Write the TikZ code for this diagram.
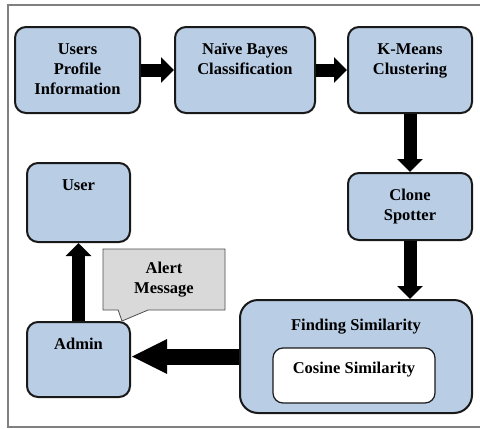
\documentclass[tikz,border=0pt]{standalone}
\usepackage{fontspec}
\setmainfont{Liberation Serif}
\usetikzlibrary{positioning,arrows.meta,shapes.callouts}
\definecolor{boxblue}{HTML}{B9CDE5}
\definecolor{alertgray}{HTML}{D9D9D9}

\begin{document}
\begin{tikzpicture}[x=1pt,y=-1pt,node distance=2cm,on grid,
    stage/.style={draw=black!90,line width=2pt,fill=boxblue,rounded corners=11pt,
      align=center,inner xsep=4pt,inner ysep=5pt,
      font=\bfseries\fontsize{16.5}{20}\selectfont},
    flow/.style={line width=13pt,-{Triangle[length=13pt,width=25pt]}},
    bigflow/.style={line width=16pt,-{Triangle[length=36pt,width=32pt]}}]
    \useasboundingbox (0,0) rectangle (480,429);
    \draw[black!50,line width=1.5pt] (482,5) -- (8,5) -- (8,427) -- (482,427);

    \node[stage,minimum width=125pt,text height=62pt,text depth=14pt] (users) at (77.5,70) {Users\\Profile\\Information};
    \node[stage,minimum width=140pt,text height=42pt,text depth=34pt] (naive) [right=167.5pt of users] {Naïve Bayes\\Classification};
    \node[stage,minimum width=124pt,text height=42pt,text depth=34pt] (kmeans) [right=165pt of naive] {K-Means\\Clustering};
    \node[stage,minimum width=124pt,text height=42pt,text depth=15pt] (clone) [below=136.5pt of kmeans] {Clone\\Spotter};
    \node[stage,minimum width=232pt,text height=25pt,text depth=78pt,rounded corners=18pt] (finding) [below left=150pt and 54pt of clone] {Finding Similarity};
    \node[stage,fill=white,line width=1.2pt,minimum width=162pt,text height=20pt,text depth=25pt,rounded corners=10pt] (cosine) at (354,375.5) {Cosine Similarity};
    \node[stage,minimum width=103pt,text height=22pt,text depth=47pt] (user) [below right=132.5pt and 1pt of users] {User};
    \node[stage,minimum width=103pt,text height=22pt,text depth=43pt] (admin) [below=157pt of user] {Admin};

    \coordinate (tip) at (122,321);
    \node[rectangle callout,callout absolute pointer={(tip)},callout pointer width=30pt,
      draw=black!70,line width=0.8pt,fill=alertgray,minimum width=122pt,minimum height=61pt,
      align=center,font=\bfseries\fontsize{16.5}{20}\selectfont] (alert) at (164,279.5) {Alert\\Message};

    \draw[flow] (users) -- (naive);
    \draw[flow] (naive) -- (kmeans);
    \draw[flow] (kmeans.south -| clone) -- (clone.north);
    \draw[flow] (clone.south) -- (clone.south |- finding.north);
    \draw[bigflow] (finding.west) -- (admin.east |- finding.west);
    \draw[flow] (admin.north) -- (user.south);
\end{tikzpicture}
\end{document}
